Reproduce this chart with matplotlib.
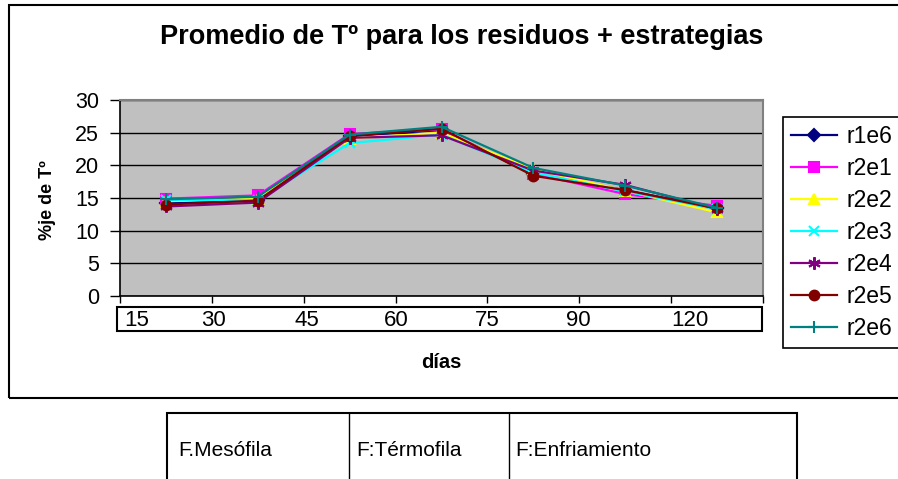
import numpy as np
import matplotlib
matplotlib.use("Agg")
import matplotlib.pyplot as plt
from matplotlib.patches import Rectangle
from matplotlib.lines import Line2D

plt.rcParams['font.family'] = ['Liberation Sans', 'DejaVu Sans']

# ---- data ----
categories = ['15', '30', '45', '60', '75', '90', '120']
series_names = ['r1e6', 'r2e1', 'r2e2', 'r2e3', 'r2e4', 'r2e5', 'r2e6']
r1e6 = [14.2, 14.7, 24.5, 25.4, 18.6, 16.2, 13.4]
r2e1 = [14.9, 15.4, 24.8, 25.5, 18.7, 15.6, 13.8]
r2e2 = [14.5, 14.9, 24.1, 25.0, 19.4, 16.1, 12.8]
r2e3 = [14.7, 14.7, 23.4, 24.7, 18.9, 16.0, 13.3]
r2e4 = [13.7, 14.3, 24.2, 24.6, 19.2, 17.0, 13.3]
r2e5 = [14.0, 14.6, 24.5, 25.6, 18.4, 16.2, 13.4]
r2e6 = [14.8, 15.2, 24.7, 25.9, 19.6, 16.9, 13.5]
phases = ['F.Mesófila', 'F:Térmofila', 'F:Enfriamiento']
series_values = [r1e6, r2e1, r2e2, r2e3, r2e4, r2e5, r2e6]

# ---- styles ----
colors = ['#000080', '#FF00FF', '#FFFF00', '#00FFFF', '#800080', '#800000', '#008080']
markers = ['D', 's', '^', 'x', (6, 2, 0), 'o', '+']
msizes = [6, 6.5, 7, 7, 9, 7, 9]

W, H = 898, 479
def fx(p): return p / W
def fy(p): return 1 - p / H

fig = plt.figure(figsize=(W / 100, H / 100), dpi=100)

# outer chart border
fig.add_artist(Rectangle((fx(9), fy(398)), fx(920) - fx(9), fy(5) - fy(398),
                         transform=fig.transFigure, fill=False, ec='black', lw=1.5))

ax = fig.add_axes([fx(120), fy(296), fx(763) - fx(120), fy(100) - fy(296)])
ax.set_facecolor('#C0C0C0')
x = np.arange(len(categories))
for name, vals, c, m, ms in zip(series_names, series_values, colors, markers, msizes):
    ax.plot(x, vals, color=c, marker=m, ms=ms, mec=c, mfc=c, mew=1.5, lw=1.6, label=name)

ax.set_xlim(-0.5, len(categories) - 0.5)
ax.set_ylim(0, 30)
ax.set_yticks(np.arange(0, 31, 5))
ax.set_xticks(np.arange(-0.5, len(categories), 1))
ax.set_xticklabels([])
ax.set_axisbelow(True)
ax.grid(axis='y', color='black', lw=1)
ax.grid(axis='x', visible=False)
for s in ['top', 'right']:
    ax.spines[s].set_color('#808080')
    ax.spines[s].set_linewidth(1.5)
for s in ['left', 'bottom']:
    ax.spines[s].set_color('black')
    ax.spines[s].set_linewidth(1.2)
ax.tick_params(axis='y', length=7, width=1, pad=8, labelsize=15.5)
ax.tick_params(axis='x', length=5, width=1, direction='out')

# category label box
fig.add_artist(Rectangle((fx(117), fy(331)), fx(762) - fx(117), fy(307) - fy(331),
                         transform=fig.transFigure, fill=True, fc='white', ec='black', lw=1.5))
label_px = [137, 213, 307, 396, 487, 578, 690]
for lab, px in zip(categories, label_px):
    fig.text(fx(px), fy(320), lab, ha='center', va='center', fontsize=16)

fig.text(fx(441), fy(362), 'días', ha='center', va='center', fontsize=14.5, fontweight='bold')
fig.text(fx(47), fy(200), '%je de Tº', ha='center', va='center', rotation=90,
         fontsize=13, fontweight='bold')
fig.text(fx(462), fy(37), 'Promedio de Tº para los residuos + estrategias',
         ha='center', va='center', fontsize=19.5, fontweight='bold')

leg = fig.legend(loc='upper left', bbox_to_anchor=(fx(783), fy(117)), fontsize=16.5,
                 frameon=True, fancybox=False, framealpha=1, edgecolor='black',
                 borderaxespad=0, borderpad=0.35, labelspacing=0.39,
                 handlelength=2.0, handletextpad=0.4)
leg.get_frame().set_linewidth(1.2)

# phase table
fig.add_artist(Rectangle((fx(167), fy(500)), fx(797) - fx(167), fy(413) - fy(500),
                         transform=fig.transFigure, fill=False, ec='black', lw=1.5))
for px in [349, 509]:
    fig.add_artist(Line2D([fx(px), fx(px)], [fy(413), fy(500)], transform=fig.transFigure,
                          color='black', lw=1))
for lab, px in zip(phases, [178, 356, 515]):
    fig.text(fx(px), fy(451), lab, ha='left', va='center', fontsize=15)

fig.savefig('out.png', dpi=100)
